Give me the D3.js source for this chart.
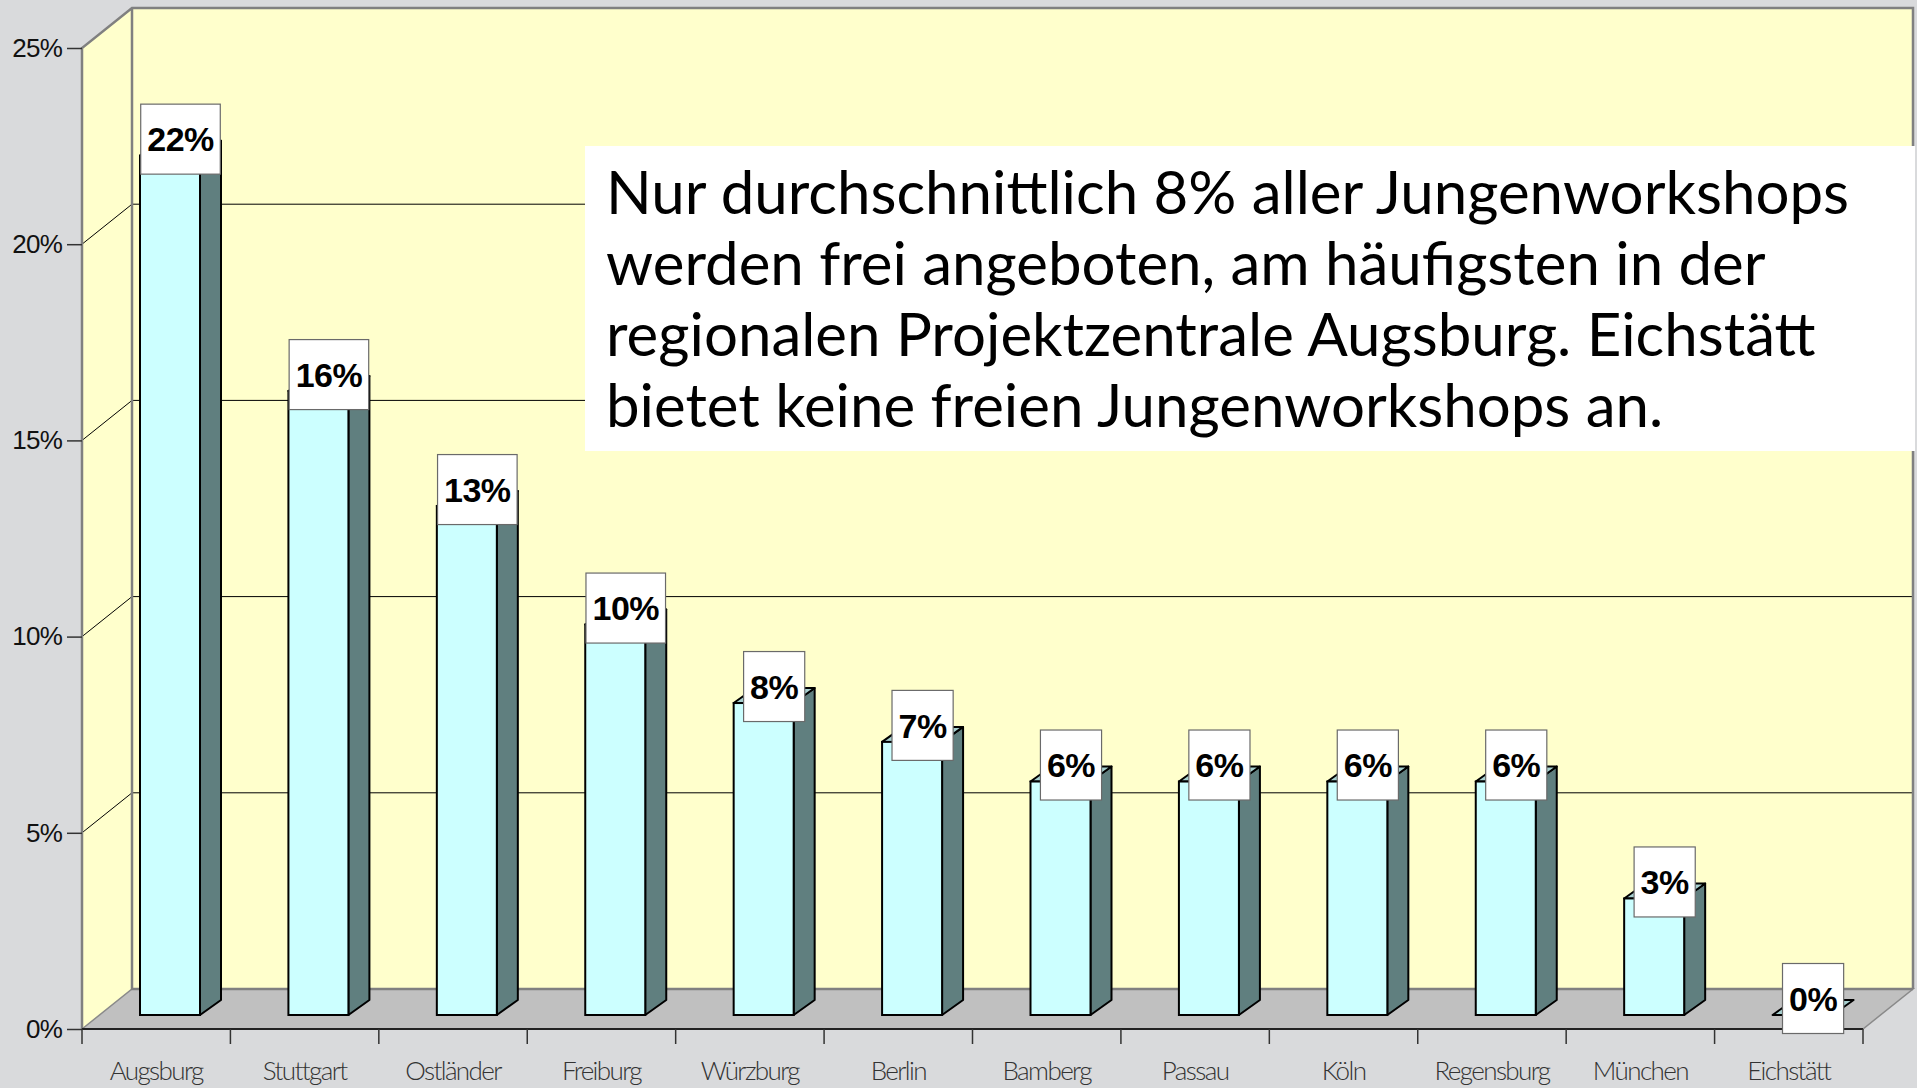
<!DOCTYPE html>
<html>
<head>
<meta charset="utf-8">
<script src="https://cdn.jsdelivr.net/npm/d3@7"></script>
<style>
  body { margin: 0; background: #d9dadc; }
  svg { display: block; }
</style>
</head>
<body>
<div id="container"></div>
<script>
  /* DATA */
  const categories = ["Augsburg", "Stuttgart", "Ostländer", "Freiburg", "Würzburg", "Berlin",
                      "Bamberg", "Passau", "Köln", "Regensburg", "München", "Eichstätt"];
  const shares = [21.9, 15.9, 12.97, 9.95, 7.95, 6.96, 5.95, 5.95, 5.95, 5.95, 2.97, 0];   // percent
  const yTicks = [0, 5, 10, 15, 20, 25];
  const noteLines = [
    "Nur durchschnittlich 8% aller Jungenworkshops",
    "werden frei angeboten, am häufigsten in der",
    "regionalen Projektzentrale Augsburg. Eichstätt",
    "bietet keine freien Jungenworkshops an."
  ];

  /* LAYOUT */
  const width = 1917, height = 1088;
  const plot = {left: 82, right: 1863, top: 48, bottom: 1029};
  const depth = {x: 50, y: 40};        // wall depth
  const bar = {off: 58, w: 60, lift: 14, dx: 21, dy: 15};

  const xScale = d3.scaleBand().domain(categories).range([plot.left, plot.right]);
  const yScale = d3.scaleLinear().domain([0, 25]).range([plot.bottom, plot.top]);

  const svg = d3.select("#container").append("svg")
      .attr("width", width)
      .attr("height", height);

  // walls
  const backX0 = plot.left + depth.x, backX1 = plot.right + depth.x;
  const backY0 = plot.top - depth.y, backY1 = plot.bottom - depth.y;

  svg.append("rect")
      .attr("x", backX0).attr("y", backY0)
      .attr("width", backX1 - backX0).attr("height", backY1 - backY0)
      .attr("fill", "#ffffcc");

  svg.append("polygon")
      .attr("points", [[plot.left, plot.top], [backX0, backY0], [backX0, backY1], [plot.left, plot.bottom]].join(" "))
      .attr("fill", "#ffffcc");

  // floor
  svg.append("polygon")
      .attr("points", [[plot.left, plot.bottom], [backX0, backY1], [backX1, backY1], [plot.right, plot.bottom]].join(" "))
      .attr("fill", "#c0c0c0")
      .attr("stroke", "#8a8a8a")
      .attr("stroke-width", 1.5);

  // gridlines
  const grid = yTicks.filter(d => d > 0 && d < 25);
  svg.selectAll("line.grid")
    .data(grid)
    .join("line")
      .attr("class", "grid")
      .attr("x1", backX0).attr("x2", backX1)
      .attr("y1", d => yScale(d) - depth.y)
      .attr("y2", d => yScale(d) - depth.y)
      .attr("stroke", "#000").attr("stroke-width", 1);

  svg.selectAll("line.gridSide")
    .data(grid)
    .join("line")
      .attr("class", "gridSide")
      .attr("x1", plot.left).attr("x2", backX0)
      .attr("y1", d => yScale(d))
      .attr("y2", d => yScale(d) - depth.y)
      .attr("stroke", "#000").attr("stroke-width", 1);

  // wall outlines
  svg.append("path")
      .attr("d", `M${plot.left},${plot.bottom} L${plot.left},${plot.top} L${backX0},${backY0} L${backX1},${backY0} L${backX1},${backY1}
                  M${backX0},${backY0} L${backX0},${backY1} L${backX1},${backY1}`)
      .attr("fill", "none")
      .attr("stroke", "#808080")
      .attr("stroke-width", 2.5);

  svg.append("line")
      .attr("x1", plot.left).attr("x2", plot.right)
      .attr("y1", plot.bottom).attr("y2", plot.bottom)
      .attr("stroke", "#222").attr("stroke-width", 2);

  // annotation box
  svg.append("rect")
      .attr("x", 585).attr("y", 146)
      .attr("width", 1330).attr("height", 305)
      .attr("fill", "#fff");

  svg.append("text")
      .attr("font-family", "Lato, sans-serif")
      .attr("font-size", 60)
      .attr("fill", "#000")
    .selectAll("tspan")
    .data(noteLines)
    .join("tspan")
      .attr("x", 606)
      .attr("y", (d, i) => 214 + i * 71)
      .text(d => d);

  // bars
  const rows = categories.map((c, i) => ({name: c, value: shares[i]}));

  const bars = svg.selectAll("g.bar")
    .data(rows)
    .join("g")
      .attr("class", "bar");

  const fx = d => xScale(d.name) + bar.off;
  const fb = () => yScale(0) - bar.lift;
  const ft = d => yScale(d.value) - bar.lift;

  bars.filter(d => d.value > 0).append("polygon")
      .attr("points", d => [[fx(d) + bar.w, fb()], [fx(d) + bar.w + bar.dx, fb() - bar.dy],
                            [fx(d) + bar.w + bar.dx, ft(d) - bar.dy], [fx(d) + bar.w, ft(d)]].join(" "))
      .attr("fill", "#607f7f")
      .attr("stroke", "#000").attr("stroke-width", 2).attr("stroke-linejoin", "round");

  bars.append("polygon")
      .attr("points", d => [[fx(d), ft(d)], [fx(d) + bar.dx, ft(d) - bar.dy],
                            [fx(d) + bar.w + bar.dx, ft(d) - bar.dy], [fx(d) + bar.w, ft(d)]].join(" "))
      .attr("fill", "#a8d0d0")
      .attr("stroke", "#000").attr("stroke-width", 2).attr("stroke-linejoin", "round");

  bars.filter(d => d.value > 0).append("rect")
      .attr("x", fx)
      .attr("y", ft)
      .attr("width", bar.w)
      .attr("height", d => fb() - ft(d))
      .attr("fill", "#ccffff")
      .attr("stroke", "#000").attr("stroke-width", 2);

  // value labels
  const labels = bars.append("g")
      .attr("transform", d => `translate(${fx(d) + (bar.w + bar.dx) / 2},${ft(d) - bar.dy - 1.5})`);

  labels.append("rect").attr("class", "lbox");
  labels.append("text")
      .attr("text-anchor", "middle")
      .attr("dy", "0.36em")
      .attr("font-family", "'Liberation Sans', Arial, sans-serif")
      .attr("font-weight", "bold")
      .attr("font-size", 34)
      .attr("letter-spacing", -0.5)
      .attr("fill", "#000")
      .text(d => Math.round(d.value) + "%");

  labels.each(function() {
    const g = d3.select(this);
    const w = g.select("text").node().getComputedTextLength() + 13;
    g.select("rect")
        .attr("x", -w / 2).attr("y", -35)
        .attr("width", w).attr("height", 70)
        .attr("fill", "#fff")
        .attr("stroke", "#6a6a6a").attr("stroke-width", 1.2);
  });

  // y axis
  const yAxis = d3.axisLeft(yScale)
      .tickValues(yTicks)
      .tickFormat(d => d + "%")
      .tickSize(15)
      .tickPadding(5);

  const yAxisGroup = svg.append("g")
      .attr("transform", `translate(${plot.left},0)`)
      .call(yAxis);
  yAxisGroup.select(".domain").remove();
  yAxisGroup.selectAll("line").attr("stroke", "#333").attr("stroke-width", 1.5);
  yAxisGroup.selectAll("text")
      .attr("font-family", "'Liberation Sans', Arial, sans-serif")
      .attr("font-size", 26)
      .attr("letter-spacing", -0.8)
      .attr("fill", "#111");

  // x axis: ticks between categories
  const bounds = categories.map(c => xScale(c)).concat([plot.right]);
  svg.selectAll("line.xtick")
    .data(bounds)
    .join("line")
      .attr("class", "xtick")
      .attr("x1", d => d).attr("x2", d => d)
      .attr("y1", plot.bottom).attr("y2", plot.bottom + 15)
      .attr("stroke", "#333").attr("stroke-width", 1.5);

  svg.selectAll("text.xlabel")
    .data(categories)
    .join("text")
      .attr("class", "xlabel")
      .attr("x", d => xScale(d) + xScale.bandwidth() / 2)
      .attr("y", 1080)
      .attr("text-anchor", "middle")
      .attr("font-family", "Lato, sans-serif")
      .attr("font-weight", 300)
      .attr("font-size", 26)
      .attr("letter-spacing", -1.6)
      .attr("fill", "#333")
      .text(d => d);
</script>
</body>
</html>
